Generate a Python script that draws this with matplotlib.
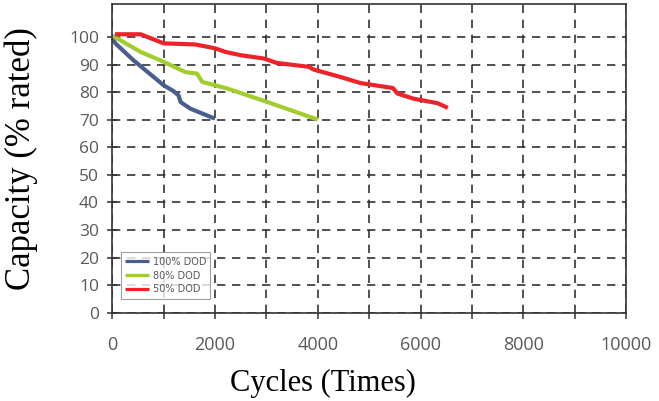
import numpy as np
import matplotlib.pyplot as plt
from matplotlib.ticker import MultipleLocator

# cycle-life curves
cyc_100 = [0, 60, 410, 1000, 1190, 1290, 1330, 1520, 1970, 2000]
cap_100 = [99.5, 97.7, 91.6, 82.5, 80.4, 78.8, 76.4, 74.0, 70.6, 70.5]

cyc_80 = [0, 550, 1000, 1420, 1650, 1750, 2000, 2240, 3020, 3960, 4000]
cap_80 = [100.5, 94.6, 91.0, 87.3, 86.7, 83.7, 82.5, 81.3, 76.4, 70.3, 70.0]

cyc_50 = [50, 550, 1000, 1620, 2000, 2200, 2500, 2950, 3200, 3820, 3920,
          4440, 4830, 5460, 5550, 5870, 6330, 6530]
cap_50 = [101.0, 101.0, 97.7, 97.3, 95.9, 94.6, 93.4, 92.2, 90.6, 89.2, 88.2,
          85.5, 83.3, 81.5, 79.5, 77.6, 76.0, 74.3]

labels = ['100% DOD', '80% DOD', '50% DOD']
colors = ['#4a5e8e', '#a2cd2e', '#ee2229']

fig = plt.figure(figsize=(6.59, 4.01), dpi=100)
ax = fig.add_axes([0.1704, 0.2202, 0.7796, 0.7686])

for x, y, lab, c in zip([cyc_100, cyc_80, cyc_50], [cap_100, cap_80, cap_50], labels, colors):
    ax.plot(x, y, color=c, lw=3, label=lab, solid_capstyle='butt')

ax.set_xlim(0, 10000)
ax.set_ylim(0, 111.8)
ax.xaxis.set_major_locator(MultipleLocator(2000))
ax.xaxis.set_minor_locator(MultipleLocator(1000))
ax.set_yticks(np.arange(0, 101, 10))

grid_kw = dict(color='#333333', linestyle=(0, (5, 4)), linewidth=1.2)
ax.grid(True, which='both', axis='x', **grid_kw)
ax.grid(True, which='major', axis='y', **grid_kw)

gray = '#595959'
ax.tick_params(axis='x', which='both', direction='out', length=4, width=1.1,
               color='#333333', labelsize=13, labelcolor=gray, pad=13)
ax.tick_params(axis='y', direction='inout', length=7, width=1.1,
               color='#333333', labelsize=12.5, labelcolor=gray, pad=6)
for lbl in ax.get_xticklabels() + ax.get_yticklabels():
    lbl.set_family('Open Sans')

for sp in ax.spines.values():
    sp.set_color('#333333')
    sp.set_linewidth(1.2)

ax.set_xlabel('Cycles (Times)', family='Liberation Serif', fontsize=22)
ax.xaxis.set_label_coords(0.41, -0.183)
ax.set_ylabel('Capacity (% rated)', family='Liberation Serif', fontsize=25)
ax.yaxis.set_label_coords(-0.145, 0.5)

leg = ax.legend(loc='lower left', bbox_to_anchor=(0.017, 0.045), fontsize=7,
                frameon=True, fancybox=False, handlelength=2.4, handletextpad=0.4,
                labelspacing=0.4, borderpad=0.45, borderaxespad=0, labelcolor=gray)
leg.get_frame().set_edgecolor('#888888')
leg.get_frame().set_linewidth(0.8)
for h in leg.get_lines():
    h.set_linewidth(2.3)

fig.savefig('out.png', dpi=100)
